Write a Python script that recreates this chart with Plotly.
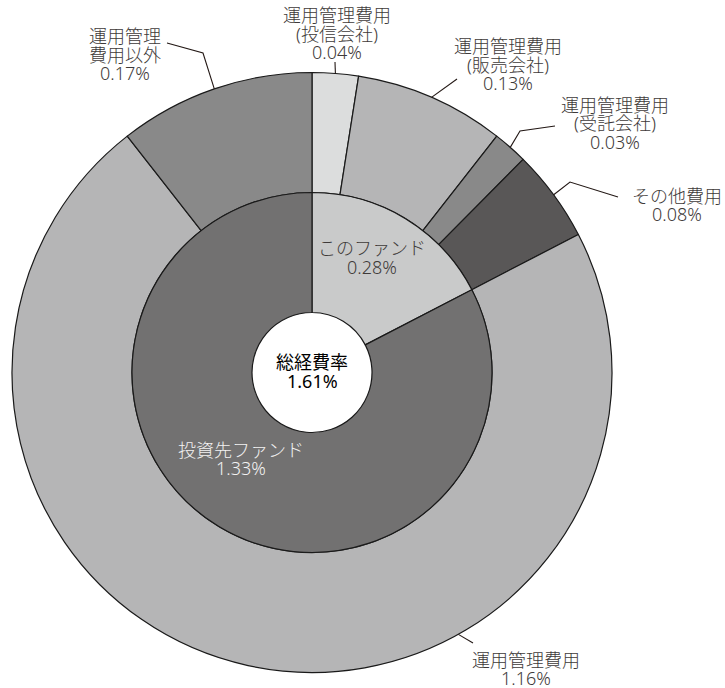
import math
import plotly.graph_objects as go

# ---------------- data ----------------
outer_labels = ["運用管理費用\n(投信会社)", "運用管理費用\n(販売会社)", "運用管理費用\n(受託会社)",
                "その他費用", "運用管理費用", "運用管理\n費用以外"]
outer_values = [0.04, 0.13, 0.03, 0.08, 1.16, 0.17]
inner_labels = ["このファンド", "投資先ファンド"]
inner_values = [0.28, 1.33]
total_label = "総経費率"

# ---------------- style / layout ----------------
W, H = 725, 688
CX, CY = 312, 372.5
R_OUT, R_IN, R_HOLE = 300, 180, 60
FONT = "Noto Sans, Noto Sans CJK JP"
FS = 18
LH = 18.5

outer_colors = ["#dcdddd", "#b5b5b6", "#898989", "#595757", "#b5b5b6", "#898989"]
inner_colors = ["#c9caca", "#727171"]
edge = dict(color="#1a1a1a", width=1.2)

# label placement: text centre x, first-line y, leader bend points, anchor fraction in slice
outer_label_pos = [
    (337, 15.5, [(335, 62)], 0.5),
    (507.5, 46.5, [(457, 79)], 0.5),
    (615, 105, [(520, 131), (555, 126)], 0.5),
    (677, 196, [(570, 182), (618, 197)], 0.5),
    (526, 660, [(473, 643)], 0.34),
    (125, 36.5, [(203, 53), (167, 43)], 0.5),
]
inner_label_pos = [(372, 248.5, "#3e3a39"), (241, 450, "#f2f2f2")]


def dom(r):
    return dict(x=[(CX - r) / W, (CX + r) / W], y=[(H - CY - r) / H, (H - CY + r) / H])


fig = go.Figure()
fig.add_trace(go.Scatter(x=[], y=[], showlegend=False, hoverinfo="skip"))
fig.add_trace(go.Pie(values=outer_values, labels=outer_labels, sort=False, direction="clockwise",
                     rotation=0, hole=R_IN / R_OUT, domain=dom(R_OUT),
                     marker=dict(colors=outer_colors, line=edge), textinfo="none",
                     hoverinfo="label+value", showlegend=False))
fig.add_trace(go.Pie(values=inner_values, labels=inner_labels, sort=False, direction="clockwise",
                     rotation=0, hole=R_HOLE / R_IN, domain=dom(R_IN),
                     marker=dict(colors=inner_colors, line=edge), textinfo="none",
                     hoverinfo="label+value", showlegend=False))

annotations = []
shapes = []


def add_lines(lines, x, y0, color, weight=300):
    for i, t in enumerate(lines):
        annotations.append(dict(x=x, y=y0 + i * LH, xref="x", yref="y", text=t, showarrow=False,
                                xanchor="center", yanchor="middle", height=LH, borderpad=0,
                                font=dict(family=FONT, size=FS, color=color, weight=weight)))


total = sum(outer_values)
cum = 0.0
for lab, val, (tx, ty, pts, frac) in zip(outer_labels, outer_values, outer_label_pos):
    ang = (cum + val * frac) / total * 2 * math.pi
    cum += val
    ex, ey = CX + R_OUT * math.sin(ang), CY - R_OUT * math.cos(ang)
    path = "M %.2f,%.2f " % (ex, ey) + " ".join("L %.2f,%.2f" % p for p in pts)
    shapes.append(dict(type="path", path=path, xref="x", yref="y",
                       line=dict(color="#231815", width=1.1)))
    add_lines(lab.split("\n") + ["%.2f%%" % val], tx, ty, "#3e3a39")

for lab, val, (tx, ty, col) in zip(inner_labels, inner_values, inner_label_pos):
    add_lines([lab, "%.2f%%" % val], tx, ty, col)

add_lines([total_label, "%.2f%%" % sum(inner_values)], CX, 362.5, "#000000", weight=400)

fig.update_layout(width=W, height=H, margin=dict(l=0, r=0, t=0, b=0),
                  paper_bgcolor="white", plot_bgcolor="white", showlegend=False,
                  annotations=annotations, shapes=shapes,
                  xaxis=dict(range=[0, W], visible=False, fixedrange=True),
                  yaxis=dict(range=[H, 0], visible=False, fixedrange=True))
fig.write_html("out.html", config={"displayModeBar": False},
               post_script="document.body.style.margin='0';document.body.style.overflow='hidden';")
